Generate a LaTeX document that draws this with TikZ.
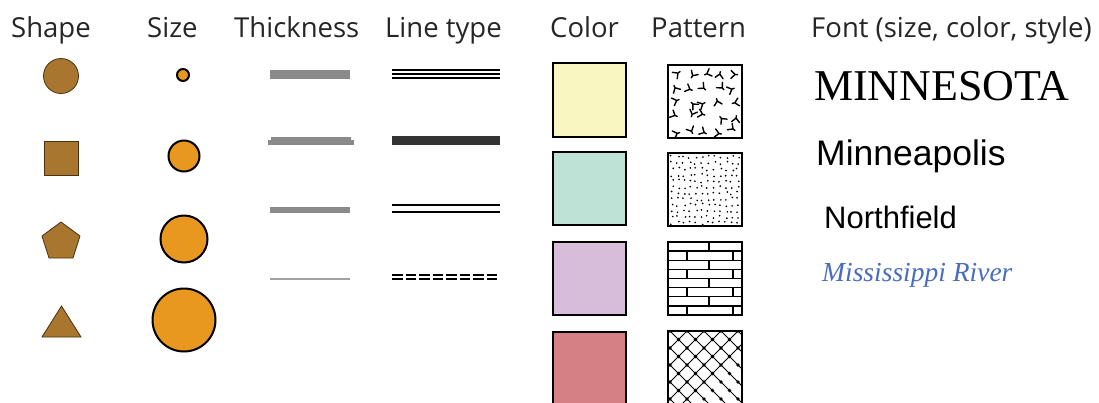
\documentclass[tikz,border=0pt]{standalone}
\usepackage{fontspec}
\setmainfont{Open Sans}
\newfontfamily\serifA{Liberation Serif}
\newfontfamily\sansA{Liberation Sans}
\definecolor{shapebrown}{HTML}{A8762F}
\definecolor{shapeedge}{HTML}{4A3210}
\definecolor{dotorange}{HTML}{E8981E}
\definecolor{thkgray}{HTML}{8A8A8A}
\definecolor{ltdark}{HTML}{333333}
\definecolor{cyellow}{HTML}{FAF6C2}
\definecolor{cteal}{HTML}{BEE3D6}
\definecolor{clav}{HTML}{D8BDDB}
\definecolor{cred}{HTML}{D48084}
\definecolor{riverblue}{HTML}{4A6CC0}
\tikzset{
  hdr/.style={anchor=base west, inner sep=0pt, font=\fontsize{27.5}{31}\selectfont, text=black!85},
  shp/.style={fill=shapebrown, draw=shapeedge, line width=0.8pt},
  sizedot/.style={fill=dotorange, draw=black, line width=2pt},
  thk/.style={fill=thkgray},
  lt/.style={draw=black, line width=1.8pt},
  swatch/.style={draw=black, line width=2pt},
  fonttxt/.style={anchor=base west, inner sep=0pt},
}
\begin{document}
\begin{tikzpicture}[x=1pt,y=-1pt]
\useasboundingbox[fill=white] (0,0) rectangle (1099,402);
% headers
\node[hdr] (hshape) at (11,37) {Shape};
\node[hdr] (hsize) at (147,37) {Size};
\node[hdr] (hthick) at (234,37) {Thickness};
\node[hdr] (hline) at (385,37) {Line type};
\node[hdr] (hcolor) at (550,37) {Color};
\node[hdr] (hpat) at (651,37) {Pattern};
\node[hdr] (hfont) at (811,37) {Font (size, color, style)};
% shapes
\draw[shp] (61,76) circle (17.5);
\draw[shp] (44,141) rectangle (78,175);
\draw[shp] (61,222) -- (80,236) -- (73,258) -- (49,258) -- (42,236) -- cycle;
\draw[shp] (42,337) -- (81,337) -- (61.5,306) -- cycle;
% sizes
\draw[sizedot] (183,75) circle (6);
\draw[sizedot] (184,156) circle (15.5);
\draw[sizedot] (184,239) circle (23.5);
\draw[sizedot] (184,320) circle (31.5);
% thickness
\fill[thk] (270,69.5) rectangle (350,78.5);
\fill[thk] (271,137) rectangle (351,141);
\fill[thk] (268,140) rectangle (354,145);
\fill[thk] (270,207) rectangle (350,213);
\fill[thkgray!80] (270,277.5) rectangle (350,279.5);
% line type
\draw[lt] (392,70) -- (500,70);
\draw[lt] (392,74) -- (500,74);
\draw[lt] (392,78) -- (500,78);
\fill[ltdark] (392,136) rectangle (500,145);
\draw[lt, line width=2pt] (392,204.5) -- (500,204.5);
\draw[lt, line width=2pt] (392,212) -- (500,212);
\draw[lt, line width=2pt, dash pattern=on 10.5pt off 3pt] (392,274.5) -- (497,274.5);
\draw[lt, line width=2pt, dash pattern=on 10.5pt off 3pt] (392,279) -- (497,279);
% colors
\draw[swatch, fill=cyellow] (553,63) rectangle (626,137);
\draw[swatch, fill=cteal] (553,152) rectangle (626,225);
\draw[swatch, fill=clav] (553,242) rectangle (626,315);
\draw[swatch, fill=cred] (553,332) rectangle (626,406);
% pattern 1: random Y marks
\begin{scope}[shift={(668,65)}]
  \begin{scope}
    \clip (0,0) rectangle (74,73);
    \pgfmathsetseed{11}
    \foreach \i in {0,...,4} {
      \foreach \j in {0,...,4} {
        \pgfmathsetmacro\px{8+14.5*\i+rand*3}
        \pgfmathsetmacro\py{8+14.5*\j+rand*3}
        \pgfmathsetmacro\ang{rnd*360}
        \draw[line width=1.4pt, line cap=round, shift={(\px,\py)}, rotate=\ang] (-4,-4) -- (0,0) -- (4,-4) (0,0) -- (0,2.5);
      }
    }
  \end{scope}
  \draw[swatch] (0,0) rectangle (74,73);
\end{scope}
% pattern 2: stipple
\begin{scope}[shift={(668,153)}]
  \begin{scope}
    \clip (0,0) rectangle (74,73);
    \pgfmathsetseed{5}
    \foreach \i in {0,...,11} {
      \foreach \j in {0,...,11} {
        \fill ({4+6*\i+rand*1.6},{4+6*\j+rand*1.6}) circle (0.95);
      }
    }
  \end{scope}
  \draw[swatch] (0,0) rectangle (74,73);
\end{scope}
% pattern 3: bricks
\begin{scope}[shift={(668,242)}]
  \begin{scope}
    \clip (0,0) rectangle (74,73);
    \foreach \r in {1,...,7} { \draw[line width=1.3pt] (0,\r*9.125) -- (74,\r*9.125); }
    \foreach \r in {0,2,4,6} { \draw[line width=1.3pt] (41,\r*9.125) -- (41,\r*9.125+9.125); }
    \foreach \r in {1,3,5,7} {
      \draw[line width=1.3pt] (19,\r*9.125) -- (19,\r*9.125+9.125);
      \draw[line width=1.3pt] (65,\r*9.125) -- (65,\r*9.125+9.125);
    }
  \end{scope}
  \draw[swatch] (0,0) rectangle (74,73);
\end{scope}
% pattern 4: crosshatch
\begin{scope}[shift={(668,331)}]
  \begin{scope}
    \clip (0,0) rectangle (74,75);
    \foreach \c in {-85,-68,...,85} {
      \draw[line width=0.9pt] (\c+2,0) -- (\c+92,90);
      \draw[line width=0.9pt] (\c+2,0) -- (\c-88,90);
    }
    \foreach \i in {0,...,5} {
      \foreach \j in {0,...,5} {
        \fill ({2+17*\i},{17*\j}) circle (1.8);
        \fill ({10.5+17*\i},{8.5+17*\j}) circle (1.8);
      }
    }
  \end{scope}
  \draw[swatch] (0,0) rectangle (74,75);
\end{scope}
% font samples
\node[fonttxt, font=\serifA\fontsize{44}{48}\selectfont] (tmn) at (814,100) {MINNESOTA};
\node[fonttxt, font=\sansA\fontsize{35.5}{40}\selectfont] (tmpls) at (816,165) {Minneapolis};
\node[fonttxt, font=\sansA\fontsize{31}{36}\selectfont] (tnf) at (824,228) {Northfield};
\node[fonttxt, font=\serifA\itshape\fontsize{27.5}{30}\selectfont, text=riverblue] (triver) at (822,281) {Mississippi River};
\end{tikzpicture}
\end{document}
